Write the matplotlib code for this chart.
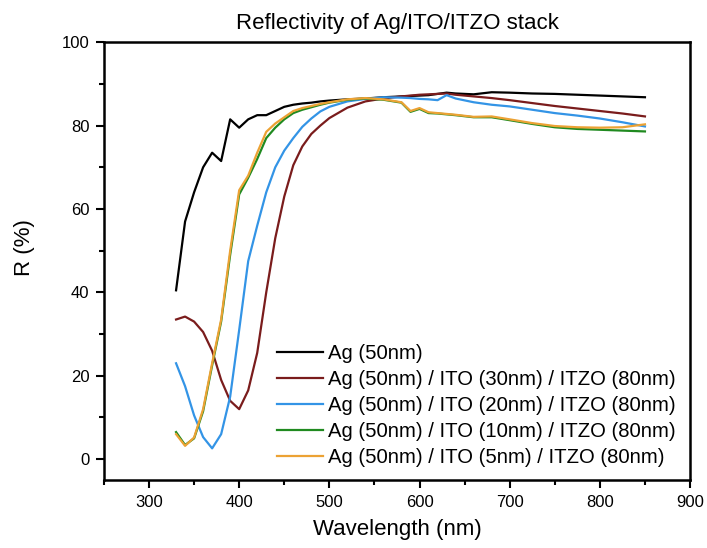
import matplotlib
matplotlib.use("Agg")
import matplotlib.pyplot as plt
from matplotlib.ticker import MultipleLocator

plt.rcParams["font.family"] = ["Liberation Sans", "DejaVu Sans"]

# wavelength grid (nm)
wl = [330, 340, 350, 360, 370, 380, 390, 400, 410, 420, 430, 440, 450, 460,
      470, 480, 490, 500, 520, 540, 560, 580, 590, 600, 610, 620, 630, 640,
      660, 680, 700, 725, 750, 775, 800, 825, 850]

# reflectivity (%)
r_ag = [40.5, 57, 64, 70, 73.5, 71.5, 81.5, 79.5, 81.5, 82.5, 82.5, 83.5, 84.5, 85,
        85.3, 85.5, 85.8, 86, 86.3, 86.5, 86.8, 87, 87.1, 87.2, 87.3, 87.6, 87.9, 87.7,
        87.5, 88, 87.9, 87.7, 87.6, 87.4, 87.2, 87, 86.8]
r_ito30 = [33.5, 34.2, 33, 30.5, 26, 19, 14, 12, 16.5, 25.5, 40, 53, 63, 70.5,
           75, 78, 80, 81.8, 84.3, 85.8, 86.5, 87, 87.2, 87.4, 87.5, 87.6, 87.7, 87.4,
           87, 86.6, 86.1, 85.4, 84.7, 84.1, 83.5, 82.9, 82.2]
r_ito20 = [23, 17.5, 10.5, 5.3, 2.6, 6, 15, 31, 47.5, 56, 64, 70, 74, 77,
           79.7, 81.7, 83.4, 84.5, 85.8, 86.4, 86.8, 86.7, 86.6, 86.4, 86.3, 86.1, 87.3, 86.5,
           85.6, 85, 84.6, 83.8, 83, 82.4, 81.7, 80.8, 79.8]
r_ito10 = [6.5, 3.4, 5, 11.5, 22.5, 33, 49, 63.5, 67.5, 72, 77, 79.5, 81.5, 83,
           83.8, 84.4, 85, 85.5, 86.2, 86.5, 86.2, 85.5, 83.3, 84, 83, 82.9, 82.7, 82.5,
           82, 82, 81.3, 80.4, 79.6, 79.2, 79, 78.8, 78.6]
r_ito5 = [6, 3.2, 5.2, 12, 23, 33.5, 50, 64.5, 68, 73.5, 78.5, 80.5, 82, 83.5,
          84.2, 84.7, 85.2, 85.6, 86.3, 86.6, 86.3, 85.6, 83.5, 84.2, 83.2, 83, 82.8, 82.6,
          82.1, 82.2, 81.5, 80.6, 79.9, 79.6, 79.5, 79.6, 80.3]

labels = ["Ag (50nm)",
          "Ag (50nm) / ITO (30nm) / ITZO (80nm)",
          "Ag (50nm) / ITO (20nm) / ITZO (80nm)",
          "Ag (50nm) / ITO (10nm) / ITZO (80nm)",
          "Ag (50nm) / ITO (5nm) / ITZO (80nm)"]
colors = ["#000000", "#7a1c1c", "#3394e6", "#208a20", "#eca234"]
series = [r_ag, r_ito30, r_ito20, r_ito10, r_ito5]

fig = plt.figure(figsize=(7.07, 5.48), dpi=100)
ax = fig.add_axes([0.147, 0.124, 0.829, 0.799])

for r, c, lab in zip(series, colors, labels):
    ax.plot(wl, r, color=c, lw=1.6, label=lab)

ax.set_xlim(250, 900)
ax.set_ylim(-5, 100)
ax.xaxis.set_major_locator(MultipleLocator(100))
ax.xaxis.set_minor_locator(MultipleLocator(50))
ax.yaxis.set_major_locator(MultipleLocator(20))
ax.yaxis.set_minor_locator(MultipleLocator(10))
ax.tick_params(which="both", direction="out", top=False, right=False, width=1.5)
ax.tick_params(which="major", length=6, labelsize=12, pad=4.5)
ax.tick_params(which="minor", length=3.6)
for s in ax.spines.values():
    s.set_linewidth(1.8)

ax.set_xlabel("Wavelength (nm)", fontsize=16, labelpad=7)
ax.set_ylabel("R (%)", fontsize=16)
ax.yaxis.set_label_coords(-0.118, 0.53)
ax.set_title("Reflectivity of Ag/ITO/ITZO stack", fontsize=16, pad=9.5)

ax.legend(loc="lower left", bbox_to_anchor=(0.281, 0.012), frameon=False,
          fontsize=14.6, handlelength=2.27, handletextpad=0.25, labelspacing=0.345,
          borderaxespad=0)

fig.savefig("out.png", dpi=100)
